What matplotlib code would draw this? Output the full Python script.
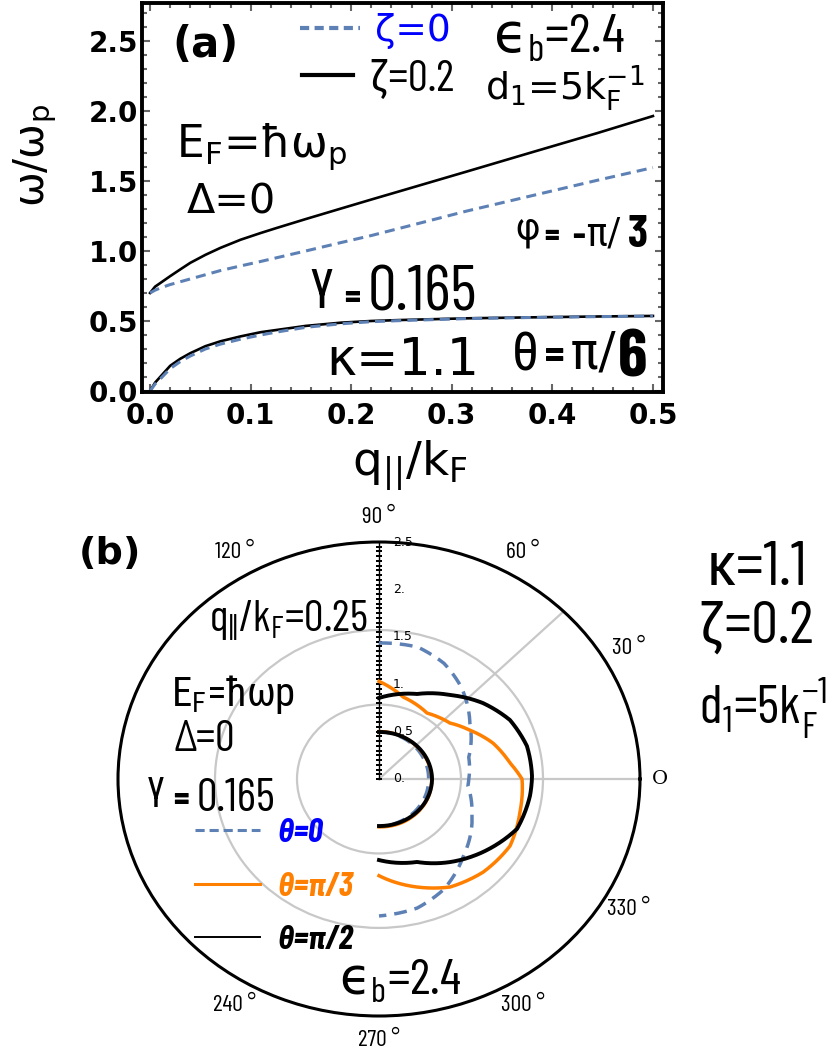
import numpy as np
import matplotlib
matplotlib.use("Agg")
import matplotlib.pyplot as plt
from matplotlib import font_manager
from matplotlib.lines import Line2D
from matplotlib.font_manager import FontProperties
from matplotlib.textpath import TextPath
from matplotlib.transforms import offset_copy

plt.rcParams["mathtext.fontset"] = "dejavusans"

W, H = 834, 1061
avail = {f.name for f in font_manager.fontManager.ttflist}


def fam(*names):
    return [n for n in names if n in avail] + ["DejaVu Sans"]


SANS = ["DejaVu Sans"]
NARROW = fam("Barlow Condensed", "Roboto Condensed", "Liberation Sans Narrow", "Liberation Sans")
GREEK = fam("Roboto Condensed", "Liberation Sans")
BLUE = "#5e81b5"
ORANGE = "#ff8000"

# panel (a): omega/omega_p against q/kF, zeta = 0 (dashed) and zeta = 0.2 (solid)
q = [0, 0.005, 0.01, 0.02, 0.03, 0.04, 0.055, 0.07, 0.09, 0.11, 0.125, 0.155, 0.19, 0.22, 0.25,
     0.315, 0.38, 0.445, 0.5]
up_z02 = [0.70, 0.745, 0.77, 0.82, 0.868, 0.915, 0.972, 1.022, 1.08, 1.128, 1.162, 1.228, 1.303, 1.367,
          1.43, 1.567, 1.705, 1.842, 1.963]
up_z0 = [0.70, 0.72, 0.735, 0.76, 0.78, 0.80, 0.83, 0.86, 0.893, 0.925, 0.95, 1.0, 1.06, 1.11,
         1.165, 1.285, 1.395, 1.505, 1.595]
lo_z02 = [0, 0.06, 0.10, 0.18, 0.23, 0.27, 0.32, 0.355, 0.39, 0.42, 0.435, 0.465, 0.488, 0.50, 0.507,
          0.519, 0.526, 0.532, 0.536]
lo_z0 = [0, 0.05, 0.085, 0.16, 0.21, 0.25, 0.30, 0.335, 0.37, 0.40, 0.42, 0.455, 0.48, 0.495, 0.503,
         0.517, 0.525, 0.531, 0.535]
xtick_labels = ["0.0", "0.1", "0.2", "0.3", "0.4", "0.5"]
ytick_labels = ["0.0", "0.5", "1.0", "1.5", "2.0", "2.5"]

# panel (b): polar plot, angle in degrees, radius omega/omega_p
ang_t0 = [90, 75, 63, 51, 34, 15, 0, -5, -22, -45, -62, -75, -90]
r_t0 = [1.435, 1.44, 1.37, 1.25, 1.05, 0.89, 0.86, 0.855, 0.96, 1.145, 1.32, 1.41, 1.445]
ang_t3 = [90, 75, 56.5, 41, 30.7, 19.2, 7.7, 0, -14.4, -29.4, -44.6, -59.2, -72.3, -90]
r_t3 = [1.03, 0.895, 0.834, 0.90, 1.01, 1.155, 1.266, 1.37, 1.394, 1.44, 1.40, 1.327, 1.196, 1.02]
ang_t2 = [90, 67.9, 52.5, 38.8, 26.4, 13.8, 1.2, -7, -21.7, -37.7, -52.2, -67.4, -90]
r_t2 = [0.855, 0.968, 1.117, 1.278, 1.40, 1.459, 1.466, 1.457, 1.423, 1.259, 1.109, 0.948, 0.855]
ang_lo = [90, 60, 30, 0, -30, -60, -90]
rlo_t0 = [0.50, 0.49, 0.48, 0.475, 0.48, 0.49, 0.50]
rlo_t3 = [0.50, 0.50, 0.50, 0.505, 0.51, 0.51, 0.505]
rlo_t2 = [0.496, 0.50, 0.505, 0.508, 0.505, 0.50, 0.496]
r_ticks = [0, 0.5, 1.0, 1.5, 2.0, 2.5]
r_tick_labels = ["0.", "0.5", "1.", "1.5", "2.", "2.5"]
ang_labels = [90, 120, 60, 30, 330, 300, 270, 240]

fig = plt.figure(figsize=(W / 100, H / 100), dpi=100)


def px(x, y):
    return x / W, 1 - y / H


def put(x0, x1, y0, y1, s, family=NARROW, weight="normal", style="normal", **kw):
    # size the text so its ink roughly fills the box (x0..x1, y0..y1)
    prop = FontProperties(family=family, weight=weight, style=style, size=100)
    ext = TextPath((0, 0), s, prop=prop).get_extents()
    k = np.sqrt((x1 - x0) / ext.width * (y1 - y0) / ext.height)
    xa = (x0 + x1) / 2 - (ext.x0 + ext.width / 2) * k
    yb = (y0 + y1) / 2 + (ext.y0 + ext.height / 2) * k
    return fig.text(*px(xa, yb), s, ha="left", va="baseline", fontsize=72 * k,
                    family=family, weight=weight, style=style, **kw)


def key(handle, label, x, y, color, prop, hl_px, pad_px):
    fs = prop.get_size_in_points() * 100 / 72
    fig.legend(handles=[handle], labels=[label], loc="center left",
               bbox_to_anchor=px(x, y), frameon=False, borderpad=0,
               borderaxespad=0, handlelength=hl_px / fs,
               handletextpad=pad_px / fs, prop=prop, labelcolor=color)


def polar_line(theta_deg, r, **kw):
    ln, = pa.plot(np.deg2rad(theta_deg), r, **kw)
    # let the polar transform draw curved segments between the read points
    ln.get_path()._interpolation_steps = 30
    return ln


# ---------------- panel (a)
ax = fig.add_axes([142 / W, 1 - 392 / H, 521 / W, 389 / H])
ax.plot(q, lo_z02, color="k", lw=1.9)
ax.plot(q, up_z02, color="k", lw=1.9)
ax.plot(q, lo_z0, color=BLUE, lw=2.2, ls="--", dashes=(3.3, 2))
ax.plot(q, up_z0, color=BLUE, lw=2.2, ls="--", dashes=(3.3, 2))
ax.set_xlim(-0.008, 0.51)
ax.set_ylim(-0.007, 2.77)
ax.set_xticks(np.arange(0, 0.51, 0.1))
ax.set_xticklabels(xtick_labels)
ax.set_xticks(np.arange(0, 0.51, 0.02), minor=True)
ax.set_yticks(np.arange(0, 2.6, 0.5))
ax.set_yticklabels(ytick_labels)
ax.set_yticks(np.arange(0, 2.75, 0.1), minor=True)
ax.tick_params(which="both", direction="in", top=True, right=True, color="#666666", width=1.5)
ax.tick_params(which="major", length=6)
ax.tick_params(which="minor", length=3.5)
ax.tick_params(axis="x", pad=7)
ax.tick_params(axis="y", pad=3)
for lab in ax.get_xticklabels() + ax.get_yticklabels():
    lab.set_fontsize(20)
    lab.set_fontweight("bold")
for sp in ax.spines.values():
    sp.set_linewidth(2.8)

fig.text(*px(35, 155), r"ω/ω$_\mathregular{p}$", rotation=90, fontsize=30, ha="center", va="center", family=SANS)
put(353, 467, 440, 490, r"q$_\mathregular{||}$/k$_\mathregular{F}$", family=SANS)

put(177, 235, 25, 63, "(a)", family=SANS, weight="bold")
key(Line2D([], [], color=BLUE, lw=3, ls="--", dashes=(2.2, 1.3)), "ζ=0", 300, 31, "blue",
    FontProperties(family=SANS, size=27), 60, 15)
key(Line2D([], [], color="k", lw=3), "ζ=0.2", 302, 80, "k",
    FontProperties(family=NARROW, size=32), 51, 15)
put(492, 627, 15, 60, r"$\mathrm{ϵ}_\mathregular{b}$=2.4")
put(485, 645, 67, 110, r"d$_\mathregular{1}$=5k$_\mathregular{F}^\mathregular{-1}$", family=SANS)
put(185, 340, 122, 172, r"E$_\mathregular{F}$=ħω$_\mathregular{p}$", family=SANS)
put(185, 275, 183, 213, "Δ=0", family=SANS)
# phi = -pi/3
put(518, 537, 217, 250, "φ", family=GREEK)
put(545, 558, 230, 240, "=", weight="bold")
put(572, 585, 233, 237, "-", weight="bold")
put(587, 620, 217, 248, "π/", family=GREEK)
put(627, 648, 218, 245, "3", weight="bold")
# gamma = 0.165
put(310, 332, 270, 307, "γ", family=GREEK)
put(345, 360, 292, 302, "=", weight="bold")
put(363, 483, 268, 308, "0.165")
put(333, 473, 337, 375, "κ=1.1", family=SANS)
# theta = pi/6
put(516, 535, 330, 373, "θ", family=GREEK)
put(547, 562, 347, 362, "=", weight="bold")
put(575, 613, 327, 375, "π/", family=GREEK)
put(617, 648, 333, 373, "6", weight="bold")

# ---------------- panel (b)
pa = fig.add_axes([118 / W, 1 - 1016 / H, 522 / W, 474 / H], projection="polar")
pa.set_aspect("auto")
pa.set_ylim(0, 2.5)
pa.set_yticks([np.pi / 4, np.pi / 2])
pa.set_yticklabels([])
pa.set_xticks(np.deg2rad([0, 45]))
pa.set_xticklabels([])
pa.set_xticks(np.deg2rad(np.arange(0, 360, 5)), minor=True)
pa.grid(True, which="major", color="#c8c8c8", lw=1.6)
pa.tick_params(axis="x", which="both", direction="in", length=5, width=1.2, color="k")
pa.spines["polar"].set_linewidth(2.2)

pa.plot([np.pi / 2, np.pi / 2], [0, 2.5], color="k", lw=1.0)
rt = np.arange(0, 2.51, 0.05)
pa.plot(np.full(len(rt), np.pi / 2), rt, ls="none", marker="_", ms=4.5, mew=1.2, color="k")
tr = offset_copy(pa.transData, fig=fig, x=14, y=0, units="dots")
for r, lab in zip(r_ticks, r_tick_labels):
    pa.text(np.pi / 2, r, lab, transform=tr, fontsize=9, ha="left", va="center", family=SANS)
for a in ang_labels:
    pa.text(np.deg2rad(a), 2.76, f"{a} °", fontsize=17, ha="center", va="center", family=NARROW)
pa.text(0, 2.69, "O", fontsize=14, ha="center", va="center", family="DejaVu Serif")

polar_line(ang_lo, rlo_t0, color=BLUE, lw=2.5, ls="--", dashes=(3.7, 2.3))
polar_line(ang_lo, rlo_t3, color=ORANGE, lw=2.5)
polar_line(ang_lo, rlo_t2, color="k", lw=2.8)
polar_line(ang_t0, r_t0, color=BLUE, lw=2.5, ls="--", dashes=(3.7, 2.3))
polar_line(ang_t3, r_t3, color=ORANGE, lw=2.5)
polar_line(ang_t2, r_t2, color="k", lw=2.8)

put(83, 137, 535, 570, "(b)", family=SANS, weight="bold")
put(217, 360, 598, 642, r"q$_\mathregular{||}$/k$_\mathregular{F}$=0.25")
put(168, 300, 677, 712, r"E$_\mathregular{F}$=ħωp", family=GREEK)
put(167, 240, 723, 748, "Δ=0")
put(147, 165, 780, 805, "γ", family=GREEK)
put(175, 187, 793, 805, "=", weight="bold")
put(200, 273, 778, 812, "0.165")
put(338, 462, 960, 1002, r"$\mathrm{ϵ}_\mathregular{b}$=2.4")
put(697, 818, 547, 580, "κ=1.1")
put(697, 817, 602, 652, "ζ=0.2")
put(697, 830, 680, 737, r"d$_\mathregular{1}$=5k$_\mathregular{F}^\mathregular{-1}$")

lp = FontProperties(family=NARROW, size=24, weight="bold", style="italic")
key(Line2D([], [], color=BLUE, lw=2.2, ls="--", dashes=(3, 1.6)), "θ=0", 195, 833, "blue", lp, 65, 17)
key(Line2D([], [], color=ORANGE, lw=2.2), "θ=π/3", 195, 887, ORANGE, lp, 65, 17)
key(Line2D([], [], color="k", lw=1.4), "θ=π/2", 195, 940, "k", lp, 65, 17)

fig.savefig("out.png", dpi=100)
